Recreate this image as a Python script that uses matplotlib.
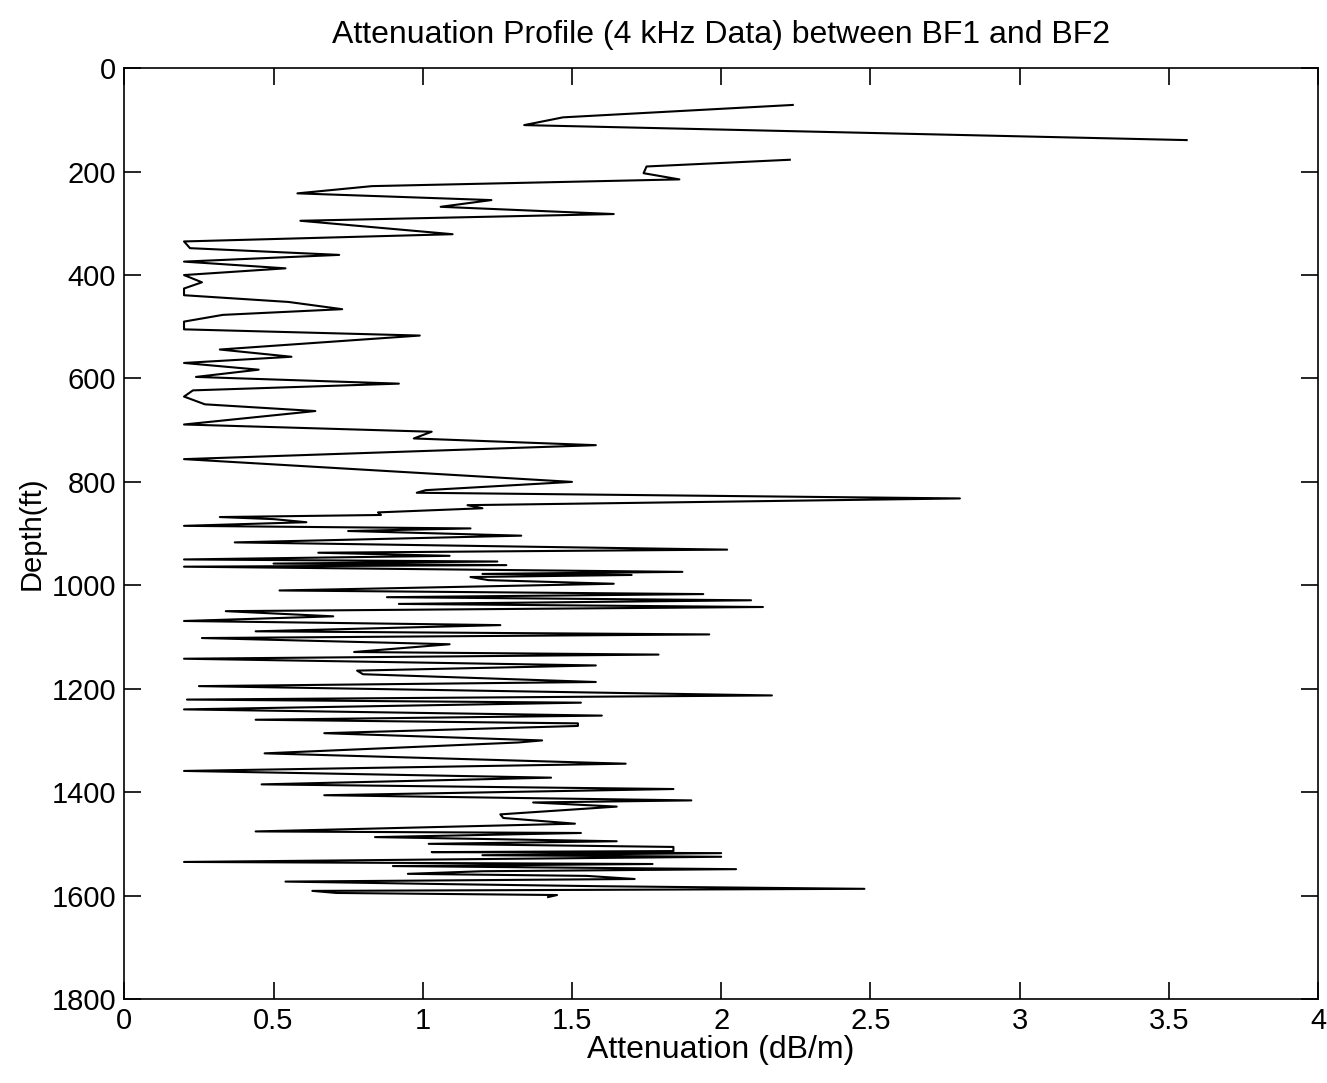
import numpy as np
import matplotlib
matplotlib.use("Agg")
import matplotlib.pyplot as plt

plt.rcParams['font.family'] = ['Liberation Sans', 'DejaVu Sans']

# upper segment (separate piece of the profile)
depth_top = [71, 95, 110, 139]
atten_top = [2.24, 1.47, 1.34, 3.56]

# main profile
depth_main = [177, 190, 203, 215, 228, 242, 255, 268, 282, 295, 321, 335, 348, 361, 374,
              387, 400, 414, 426, 439, 452, 466, 477, 490, 505, 517, 544, 558, 570, 583,
              597, 610, 623, 635, 650, 663, 689, 703, 716, 729, 756, 800, 816, 821, 832,
              845, 851, 859, 864, 868, 872, 878, 885, 890, 895, 904, 917, 931, 937, 943,
              950, 954, 958, 961, 964, 974, 978, 980, 984, 990, 997, 1010, 1017, 1023, 1029,
              1036, 1042, 1050, 1060, 1069, 1077, 1089, 1095, 1102, 1114, 1129, 1134, 1142,
              1155, 1165, 1172, 1187, 1195, 1213, 1221, 1227, 1240, 1252, 1260, 1267, 1272,
              1286, 1300, 1304, 1325, 1345, 1359, 1372, 1385, 1394, 1406, 1416, 1420, 1428,
              1443, 1450, 1461, 1476, 1479, 1487, 1495, 1500, 1506, 1514, 1516, 1518, 1522,
              1525, 1535, 1539, 1543, 1549, 1553, 1558, 1562, 1568, 1573, 1578, 1582, 1587,
              1591, 1595, 1599, 1603]
atten_main = [2.23, 1.75, 1.74, 1.86, 0.83, 0.58, 1.23, 1.06, 1.64, 0.59, 1.10, 0.20, 0.22, 0.72, 0.20,
              0.54, 0.20, 0.26, 0.20, 0.20, 0.55, 0.73, 0.33, 0.20, 0.20, 0.99, 0.32, 0.56, 0.20, 0.45,
              0.24, 0.92, 0.23, 0.20, 0.27, 0.64, 0.20, 1.03, 0.97, 1.58, 0.20, 1.50, 1.01, 0.98, 2.80,
              1.15, 1.20, 0.85, 0.86, 0.32, 0.50, 0.61, 0.20, 1.16, 0.75, 1.33, 0.37, 2.02, 0.65, 1.09,
              0.20, 1.25, 0.50, 1.28, 0.20, 1.87, 1.20, 1.70, 1.16, 1.22, 1.64, 0.52, 1.94, 0.88, 2.10,
              0.92, 2.14, 0.34, 0.70, 0.20, 1.26, 0.44, 1.96, 0.26, 1.09, 0.77, 1.79, 0.20,
              1.58, 0.78, 0.80, 1.58, 0.25, 2.17, 0.21, 1.53, 0.20, 1.60, 0.44, 1.52, 1.52,
              0.67, 1.40, 1.32, 0.47, 1.68, 0.20, 1.43, 0.46, 1.84, 0.67, 1.90, 1.37, 1.65,
              1.26, 1.27, 1.51, 0.44, 1.53, 0.84, 1.65, 1.02, 1.84, 1.84, 1.03, 2.00, 1.20,
              2.00, 0.20, 1.77, 0.90, 2.05, 1.20, 0.95, 1.55, 1.71, 0.54, 1.09, 1.60, 2.48,
              0.63, 0.71, 1.45, 1.42]

depth = depth_top + [np.nan] + depth_main
atten = atten_top + [np.nan] + atten_main

fig = plt.figure(figsize=(13.27, 10.83), dpi=100)
ax = fig.add_axes([0.0937, 0.0776, 0.8995, 0.8594])
ax.plot(atten, depth, color='black', lw=1.5)

ax.set_xlim(0, 4)
ax.set_ylim(1800, 0)
ax.set_xticks(np.arange(0, 4.01, 0.5))
ax.set_xticklabels(['0', '0.5', '1', '1.5', '2', '2.5', '3', '3.5', '4'])
ax.set_yticks(np.arange(0, 1801, 200))
ax.tick_params(direction='in', top=True, right=True, length=12, width=1.2,
               labelsize=21, pad=6)
for s in ax.spines.values():
    s.set_linewidth(1.2)

ax.set_title('Attenuation Profile (4 kHz Data) between BF1 and BF2', fontsize=23, pad=18)
ax.set_xlabel('Attenuation (dB/m)', fontsize=23, labelpad=0)
ax.set_ylabel('Depth(ft)', fontsize=21, labelpad=4)

fig.savefig('out.png', dpi=100, facecolor='white')
